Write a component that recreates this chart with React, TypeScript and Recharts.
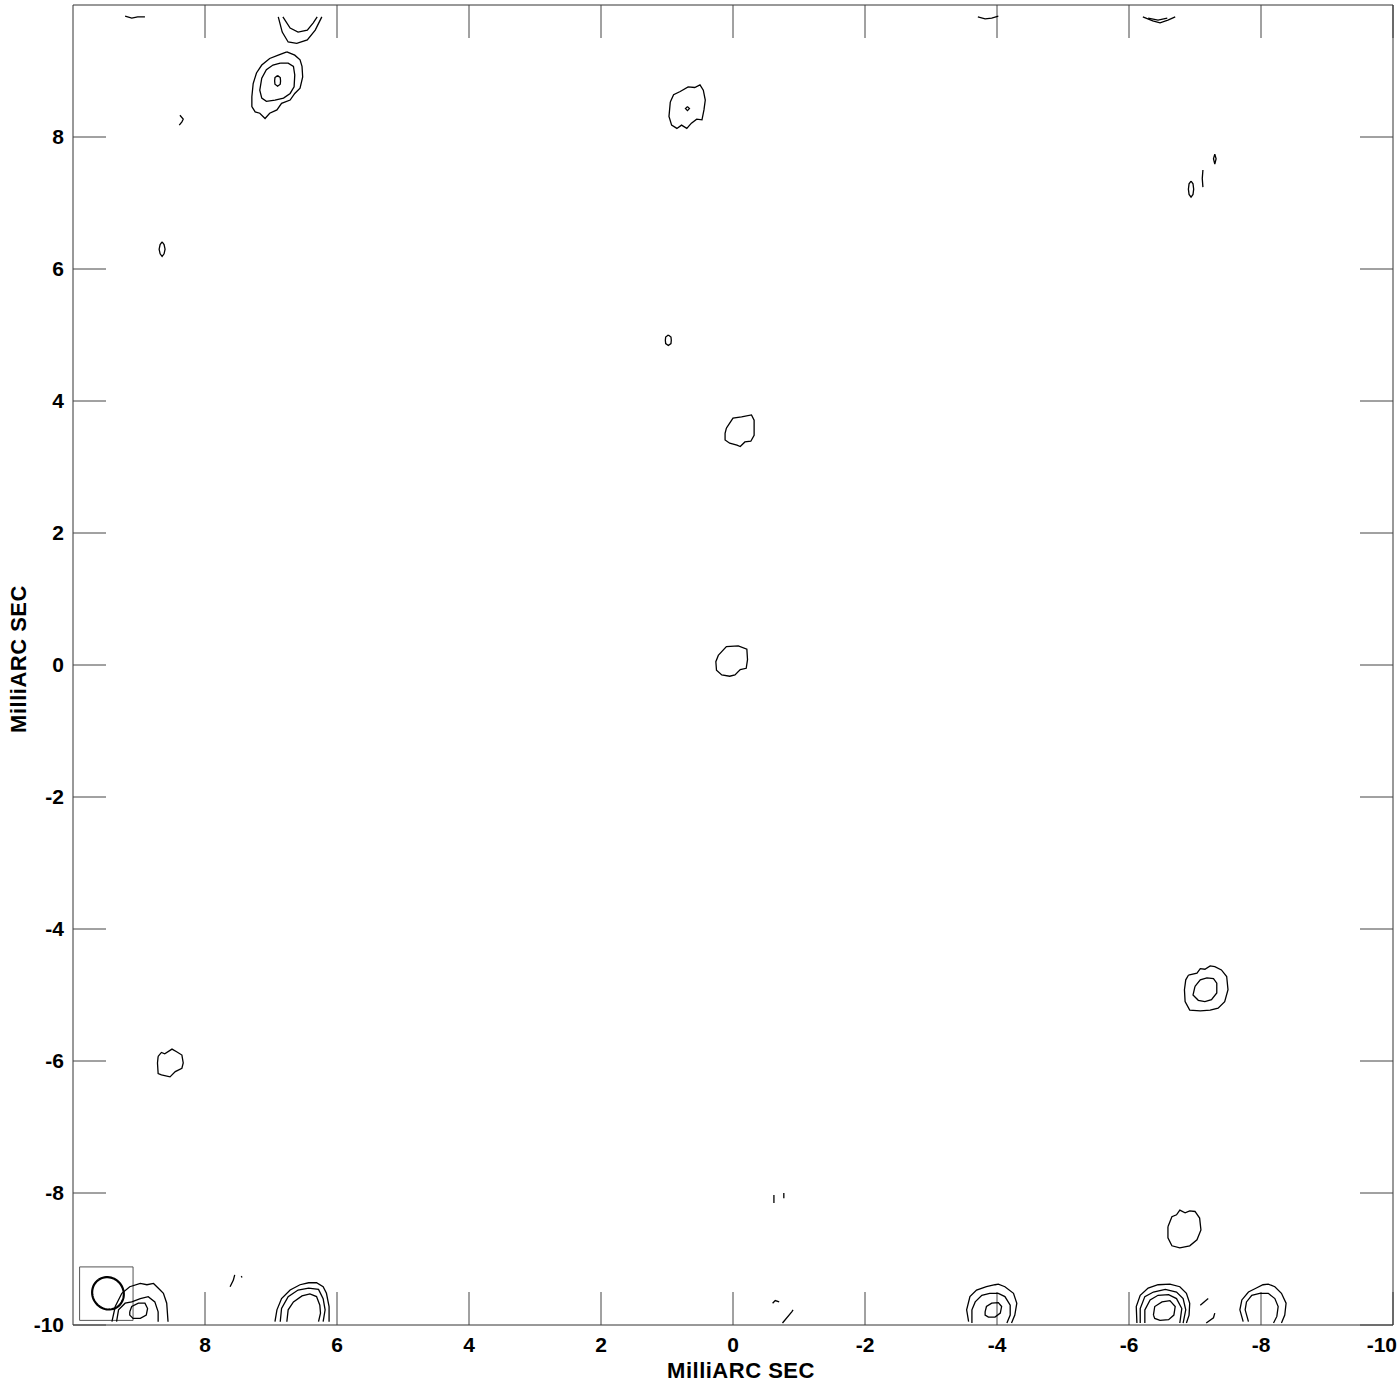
import React from 'react';
import { ScatterChart, Scatter, XAxis, YAxis, ReferenceArea, Label } from 'recharts';

type P = [number, number];

// ---------- axes ----------
const xTicks = [8, 6, 4, 2, 0, -2, -4, -6, -8, -10];
const yTicks = [8, 6, 4, 2, 0, -2, -4, -6, -8, -10];
const xDomain: P = [-10, 10];
const yDomain: P = [-10, 10];
const axisTitle = 'MilliARC SEC';

// ---------- contours (RA offset mas, Dec offset mas) ----------
const topLeftTilde: P[] = [[9.21, 9.83], [9.11, 9.8], [9.02, 9.82], [8.91, 9.82]];
const topUOuter: P[] = [[6.89, 9.82], [6.83, 9.59], [6.74, 9.44], [6.61, 9.42], [6.45, 9.47], [6.33, 9.62], [6.23, 9.82]];
const topUInner: P[] = [[6.82, 9.82], [6.71, 9.65], [6.59, 9.59], [6.45, 9.62], [6.36, 9.73], [6.3, 9.82]];

const nwOuter: P[] = [
  [6.76, 9.29], [6.64, 9.24], [6.56, 9.17], [6.53, 9.07], [6.52, 8.91], [6.56, 8.74], [6.64, 8.66],
  [6.71, 8.56], [6.84, 8.51], [6.91, 8.41], [7.02, 8.36], [7.09, 8.28], [7.17, 8.36], [7.24, 8.38],
  [7.29, 8.46], [7.29, 8.61], [7.27, 8.81], [7.22, 8.97], [7.14, 9.09], [7.02, 9.19], [6.89, 9.24],
];
const nwMiddle: P[] = [
  [6.86, 9.12], [6.74, 9.12], [6.66, 9.07], [6.64, 8.94], [6.65, 8.76], [6.71, 8.66], [6.81, 8.59],
  [6.94, 8.56], [7.07, 8.54], [7.14, 8.59], [7.17, 8.71], [7.14, 8.89], [7.07, 9.02], [6.97, 9.09],
];
const nwInner: P[] = [[6.9, 8.93], [6.86, 8.9], [6.855, 8.85], [6.86, 8.8], [6.9, 8.77], [6.94, 8.8], [6.945, 8.85], [6.94, 8.9]];

const nwHook: P[] = [[8.38, 8.33], [8.33, 8.27], [8.35, 8.23], [8.39, 8.18]];
const nwSpeck: P[] = [[8.65, 6.41], [8.62, 6.37], [8.605, 6.3], [8.62, 6.23], [8.65, 6.19], [8.68, 6.23], [8.695, 6.3], [8.68, 6.37]];

const nOuter: P[] = [
  [0.95, 8.53], [0.9, 8.64], [0.8, 8.69], [0.68, 8.76], [0.58, 8.75], [0.5, 8.79], [0.45, 8.71], [0.42, 8.56],
  [0.44, 8.41], [0.47, 8.26], [0.55, 8.27], [0.63, 8.21], [0.7, 8.13], [0.78, 8.18], [0.85, 8.13], [0.93, 8.18], [0.97, 8.31],
];
const nInner: P[] = [[0.69, 8.46], [0.66, 8.43], [0.69, 8.4], [0.72, 8.43]];
const nSpeck: P[] = [[0.98, 5.0], [1.02, 4.97], [1.025, 4.92], [1.02, 4.87], [0.98, 4.84], [0.94, 4.87], [0.935, 4.92], [0.94, 4.97]];

const jetKnot: P[] = [
  [0.1, 3.59], [0.0, 3.74], [-0.13, 3.76], [-0.28, 3.79], [-0.32, 3.71], [-0.32, 3.48], [-0.27, 3.39],
  [-0.18, 3.38], [-0.11, 3.31], [-0.06, 3.33], [0.05, 3.36], [0.12, 3.41], [0.12, 3.51],
];
const core: P[] = [
  [0.22, 0.15], [0.1, 0.28], [-0.08, 0.29], [-0.21, 0.24], [-0.22, 0.08], [-0.2, -0.05],
  [-0.11, -0.07], [-0.03, -0.15], [0.05, -0.17], [0.17, -0.15], [0.25, -0.08], [0.26, 0.05],
];

const neLensA: P[] = [[-6.21, 9.82], [-6.36, 9.76], [-6.47, 9.73], [-6.59, 9.77], [-6.7, 9.82]];
const neLensB: P[] = [[-6.29, 9.8], [-6.44, 9.77], [-6.58, 9.8]];
const neTilde: P[] = [[-3.71, 9.82], [-3.82, 9.79], [-3.92, 9.8], [-4.02, 9.83]];
const neSpeckA: P[] = [[-7.3, 7.74], [-7.28, 7.67], [-7.3, 7.59], [-7.32, 7.67]];
const neStroke: P[] = [[-7.12, 7.5], [-7.11, 7.37], [-7.12, 7.24]];
const neSpeckB: P[] = [[-6.94, 7.33], [-6.91, 7.29], [-6.9, 7.21], [-6.91, 7.13], [-6.94, 7.09], [-6.97, 7.13], [-6.98, 7.21], [-6.97, 7.29]];

const seOuter: P[] = [
  [-6.9, -4.7], [-7.03, -4.67], [-7.08, -4.6], [-7.15, -4.61], [-7.23, -4.56], [-7.3, -4.57], [-7.4, -4.62],
  [-7.48, -4.72], [-7.5, -4.92], [-7.45, -5.1], [-7.35, -5.2], [-7.23, -5.23], [-7.08, -5.24], [-6.92, -5.23],
  [-6.85, -5.1], [-6.84, -4.92], [-6.86, -4.77],
];
const seInner: P[] = [
  [-7.0, -4.87], [-7.08, -4.77], [-7.18, -4.74], [-7.28, -4.75], [-7.33, -4.82], [-7.33, -4.97],
  [-7.25, -5.07], [-7.15, -5.1], [-7.05, -5.08], [-6.97, -5.0],
];
const seLower: P[] = [
  [-6.59, -8.51], [-6.65, -8.36], [-6.72, -8.33], [-6.77, -8.26], [-6.85, -8.3], [-6.92, -8.27], [-7.0, -8.28],
  [-7.07, -8.38], [-7.09, -8.56], [-7.03, -8.71], [-6.92, -8.8], [-6.77, -8.83], [-6.65, -8.8], [-6.59, -8.68],
];

const swBlob: P[] = [
  [8.71, -5.93], [8.66, -5.87], [8.61, -5.89], [8.5, -5.82], [8.43, -5.86], [8.35, -5.91], [8.33, -6.03],
  [8.35, -6.11], [8.45, -6.16], [8.53, -6.24], [8.66, -6.21], [8.71, -6.19], [8.72, -6.03],
];

const sTickA: P[] = [[-0.62, -8.03], [-0.62, -8.15]];
const sTickB: P[] = [[-0.77, -8.0], [-0.77, -8.08]];
const sHookA: P[] = [[-0.6, -9.67], [-0.64, -9.63], [-0.7, -9.65]];
const sHookB: P[] = [[-0.75, -9.97], [-0.89, -9.8], [-0.91, -9.77]];
const swHook: P[] = [[7.62, -9.42], [7.57, -9.32], [7.55, -9.24]];
const swDot: P[] = [[7.45, -9.26], [7.44, -9.28]];

const edgeA1: P[] = [[9.41, -9.95], [9.36, -9.72], [9.26, -9.52], [9.14, -9.42], [8.98, -9.37], [8.88, -9.39], [8.78, -9.37], [8.71, -9.44], [8.63, -9.52], [8.58, -9.67], [8.56, -9.95]];
const edgeA2: P[] = [[9.34, -9.95], [9.31, -9.77], [9.21, -9.67], [9.11, -9.65], [8.98, -9.6], [8.86, -9.57], [8.76, -9.65], [8.71, -9.8], [8.71, -9.95]];
const edgeA3: P[] = [[9.14, -9.8], [9.11, -9.72], [9.01, -9.67], [8.91, -9.67], [8.87, -9.75], [8.89, -9.85], [8.98, -9.9], [9.09, -9.9], [9.14, -9.85]];

const edgeB1: P[] = [[6.94, -9.95], [6.91, -9.77], [6.84, -9.6], [6.71, -9.47], [6.56, -9.39], [6.43, -9.36], [6.31, -9.36], [6.21, -9.42], [6.16, -9.52], [6.12, -9.72], [6.12, -9.95]];
const edgeB2: P[] = [[6.86, -9.95], [6.84, -9.75], [6.74, -9.57], [6.59, -9.47], [6.43, -9.44], [6.28, -9.46], [6.21, -9.6], [6.18, -9.77], [6.21, -9.95]];
const edgeB3: P[] = [[6.76, -9.95], [6.74, -9.77], [6.66, -9.65], [6.53, -9.56], [6.41, -9.53], [6.31, -9.57], [6.26, -9.7], [6.25, -9.82], [6.28, -9.95]];

const edgeC1: P[] = [[-3.57, -9.95], [-3.54, -9.77], [-3.59, -9.57], [-3.69, -9.47], [-3.84, -9.42], [-3.97, -9.39], [-4.02, -9.38], [-4.12, -9.42], [-4.25, -9.52], [-4.3, -9.67], [-4.27, -9.85], [-4.22, -9.97]];
const edgeC2: P[] = [[-3.62, -9.97], [-3.62, -9.77], [-3.67, -9.65], [-3.77, -9.55], [-3.89, -9.52], [-4.02, -9.52], [-4.12, -9.57], [-4.2, -9.7], [-4.2, -9.85], [-4.15, -9.97]];
const edgeC3: P[] = [[-3.82, -9.8], [-3.84, -9.72], [-3.92, -9.67], [-4.02, -9.66], [-4.07, -9.72], [-4.05, -9.82], [-3.97, -9.88], [-3.87, -9.88], [-3.82, -9.85]];

const edgeD1: P[] = [[-6.12, -9.97], [-6.11, -9.72], [-6.17, -9.55], [-6.29, -9.44], [-6.44, -9.39], [-6.62, -9.38], [-6.77, -9.42], [-6.87, -9.52], [-6.92, -9.67], [-6.91, -9.85], [-6.87, -9.97]];
const edgeD2: P[] = [[-6.17, -9.97], [-6.17, -9.75], [-6.24, -9.57], [-6.37, -9.5], [-6.55, -9.46], [-6.72, -9.5], [-6.82, -9.6], [-6.86, -9.77], [-6.82, -9.97]];
const edgeD3: P[] = [[-6.24, -9.97], [-6.24, -9.77], [-6.32, -9.62], [-6.44, -9.55], [-6.6, -9.54], [-6.72, -9.6], [-6.8, -9.75], [-6.77, -9.97]];
const edgeD4: P[] = [[-6.37, -9.85], [-6.39, -9.72], [-6.5, -9.65], [-6.62, -9.63], [-6.7, -9.72], [-6.68, -9.85], [-6.6, -9.92], [-6.47, -9.93], [-6.39, -9.9]];
const edgeDSlashA: P[] = [[-7.08, -9.7], [-7.2, -9.6]];
const edgeDSlashB: P[] = [[-7.17, -9.97], [-7.28, -9.89], [-7.3, -9.82]];

const edgeE1: P[] = [[-7.73, -9.95], [-7.68, -9.77], [-7.71, -9.62], [-7.81, -9.5], [-7.93, -9.44], [-8.03, -9.39], [-8.11, -9.38], [-8.21, -9.42], [-8.31, -9.52], [-8.38, -9.67], [-8.36, -9.85], [-8.31, -9.97]];
const edgeE2: P[] = [[-7.81, -9.95], [-7.76, -9.77], [-7.78, -9.65], [-7.86, -9.55], [-7.98, -9.52], [-8.11, -9.52], [-8.21, -9.6], [-8.26, -9.72], [-8.24, -9.87], [-8.19, -9.97]];

// ---------- restoring beam ----------
const beamCenter: P = [9.47, -9.52];
const beamMajor = 0.5; // mas (FWHM)
const beamMinor = 0.47; // mas
const beamPA = 35; // deg
const beamBoxX: P = [9.9, 9.09];
const beamBoxY: P = [-9.93, -9.12];

type C = { id: string; pts: P[]; closed: boolean };
const contours: C[] = [
  { id: 'topLeftTilde', pts: topLeftTilde, closed: false },
  { id: 'topUOuter', pts: topUOuter, closed: false },
  { id: 'topUInner', pts: topUInner, closed: false },
  { id: 'nwOuter', pts: nwOuter, closed: true },
  { id: 'nwMiddle', pts: nwMiddle, closed: true },
  { id: 'nwInner', pts: nwInner, closed: true },
  { id: 'nwHook', pts: nwHook, closed: false },
  { id: 'nwSpeck', pts: nwSpeck, closed: true },
  { id: 'nOuter', pts: nOuter, closed: true },
  { id: 'nInner', pts: nInner, closed: true },
  { id: 'nSpeck', pts: nSpeck, closed: true },
  { id: 'jetKnot', pts: jetKnot, closed: true },
  { id: 'core', pts: core, closed: true },
  { id: 'neLensA', pts: neLensA, closed: false },
  { id: 'neLensB', pts: neLensB, closed: false },
  { id: 'neTilde', pts: neTilde, closed: false },
  { id: 'neSpeckA', pts: neSpeckA, closed: true },
  { id: 'neStroke', pts: neStroke, closed: false },
  { id: 'neSpeckB', pts: neSpeckB, closed: true },
  { id: 'seOuter', pts: seOuter, closed: true },
  { id: 'seInner', pts: seInner, closed: true },
  { id: 'seLower', pts: seLower, closed: true },
  { id: 'swBlob', pts: swBlob, closed: true },
  { id: 'sTickA', pts: sTickA, closed: false },
  { id: 'sTickB', pts: sTickB, closed: false },
  { id: 'sHookA', pts: sHookA, closed: false },
  { id: 'sHookB', pts: sHookB, closed: false },
  { id: 'swHook', pts: swHook, closed: false },
  { id: 'swDot', pts: swDot, closed: false },
  { id: 'edgeA1', pts: edgeA1, closed: false },
  { id: 'edgeA2', pts: edgeA2, closed: false },
  { id: 'edgeA3', pts: edgeA3, closed: true },
  { id: 'edgeB1', pts: edgeB1, closed: false },
  { id: 'edgeB2', pts: edgeB2, closed: false },
  { id: 'edgeB3', pts: edgeB3, closed: false },
  { id: 'edgeC1', pts: edgeC1, closed: false },
  { id: 'edgeC2', pts: edgeC2, closed: false },
  { id: 'edgeC3', pts: edgeC3, closed: true },
  { id: 'edgeD1', pts: edgeD1, closed: false },
  { id: 'edgeD2', pts: edgeD2, closed: false },
  { id: 'edgeD3', pts: edgeD3, closed: false },
  { id: 'edgeD4', pts: edgeD4, closed: true },
  { id: 'edgeDSlashA', pts: edgeDSlashA, closed: false },
  { id: 'edgeDSlashB', pts: edgeDSlashB, closed: false },
  { id: 'edgeE1', pts: edgeE1, closed: false },
  { id: 'edgeE2', pts: edgeE2, closed: false },
];

const toRows = (pts: P[], closed: boolean) => {
  const rows = pts.map(([x, y]) => ({ x, y }));
  if (closed && pts.length) rows.push({ x: pts[0][0], y: pts[0][1] });
  return rows;
};

// beam outline built from its parameters
const beamRows = (() => {
  const a = beamMajor / 2;
  const b = beamMinor / 2;
  const pa = (beamPA * Math.PI) / 180;
  const rows: { x: number; y: number }[] = [];
  for (let k = 0; k <= 60; k++) {
    const t = (2 * Math.PI * k) / 60;
    const u = a * Math.cos(t);
    const v = b * Math.sin(t);
    rows.push({
      x: beamCenter[0] + u * Math.sin(pa) + v * Math.cos(pa),
      y: beamCenter[1] + u * Math.cos(pa) - v * Math.sin(pa),
    });
  }
  return rows;
})();

const FONT = '"Liberation Sans", Arial, Helvetica, sans-serif';
const NoShape = () => <g />;
const NoTick = () => <g />;

const XTick = (props: any) => {
  const { x, y, payload } = props;
  const last = payload.value === -10;
  return (
    <text x={last ? x + 4 : x} y={y} dy="0.71em" textAnchor={last ? 'end' : 'middle'} fontFamily={FONT} fontWeight="bold" fontSize={21} fill="#000">
      {payload.value}
    </text>
  );
};

const YTick = (props: any) => {
  const { x, y, payload } = props;
  return (
    <text x={x} y={y} dy="0.355em" textAnchor="end" fontFamily={FONT} fontWeight="bold" fontSize={21} fill="#000">
      {payload.value}
    </text>
  );
};

const renderXTitle = (props: any) => {
  const vb = props.viewBox || { x: 73, y: 1325, width: 1320, height: 1 };
  return (
    <text x={vb.x + vb.width / 2 + 8} y={vb.y + 53} textAnchor="middle" fontFamily={FONT} fontWeight="bold" fontSize={22} letterSpacing={0.5} fill="#000">
      {axisTitle}
    </text>
  );
};

const renderYTitle = (props: any) => {
  const vb = props.viewBox || { x: 72, y: 5, width: 1, height: 1320 };
  const cx = vb.x + vb.width - 55;
  const cy = vb.y + vb.height / 2 - 6;
  return (
    <text x={cx} y={cy} transform={`rotate(-90, ${cx}, ${cy})`} textAnchor="middle" dominantBaseline="central" fontFamily={FONT} fontWeight="bold" fontSize={22} letterSpacing={0.5} fill="#000">
      {axisTitle}
    </text>
  );
};

const AXIS = '#333';
const TICK = '#444';

export default function App() {
  return (
    <div style={{ position: 'absolute', left: 0, top: 0, width: 1400, height: 1382, background: '#fff' }}>
      <ScatterChart width={1400} height={1382} margin={{ top: 4, right: 6, bottom: 56, left: 72 }}>
        <XAxis
          xAxisId="b"
          type="number"
          dataKey="x"
          orientation="bottom"
          domain={xDomain}
          reversed
          allowDataOverflow
          ticks={xTicks}
          height={1}
          tickSize={-33}
          tickMargin={45}
          tick={<XTick />}
          stroke={AXIS}
          tickLine={{ stroke: TICK }}
          interval={0}
        >
          <Label content={renderXTitle} />
        </XAxis>
        <XAxis
          xAxisId="t"
          type="number"
          dataKey="x"
          orientation="top"
          domain={xDomain}
          reversed
          allowDataOverflow
          ticks={xTicks}
          height={1}
          tickSize={-33}
          tick={<NoTick />}
          stroke={AXIS}
          tickLine={{ stroke: TICK }}
          interval={0}
        />
        <YAxis
          yAxisId="l"
          type="number"
          dataKey="y"
          orientation="left"
          domain={yDomain}
          allowDataOverflow
          ticks={yTicks}
          width={1}
          tickSize={-33}
          tickMargin={42}
          tick={<YTick />}
          stroke={AXIS}
          tickLine={{ stroke: TICK }}
          interval={0}
        >
          <Label content={renderYTitle} />
        </YAxis>
        <YAxis
          yAxisId="r"
          type="number"
          dataKey="y"
          orientation="right"
          domain={yDomain}
          allowDataOverflow
          ticks={yTicks}
          width={1}
          tickSize={-33}
          tick={<NoTick />}
          stroke={AXIS}
          tickLine={{ stroke: TICK }}
          interval={0}
        />
        <ReferenceArea
          xAxisId="b"
          yAxisId="l"
          x1={beamBoxX[0]}
          x2={beamBoxX[1]}
          y1={beamBoxY[0]}
          y2={beamBoxY[1]}
          fill="none"
          fillOpacity={0}
          stroke="#555"
          strokeWidth={1}
          ifOverflow="visible"
        />
        {contours.map((c) => (
          <Scatter
            key={c.id}
            name={c.id}
            xAxisId="b"
            yAxisId="l"
            data={toRows(c.pts, c.closed)}
            line={{ stroke: '#000', strokeWidth: 1.3, fill: 'none' }}
            lineType="joint"
            shape={<NoShape />}
            isAnimationActive={false}
          />
        ))}
        <Scatter
          name="beam"
          xAxisId="b"
          yAxisId="l"
          data={beamRows}
          line={{ stroke: '#000', strokeWidth: 2.2, fill: 'none' }}
          lineType="joint"
          shape={<NoShape />}
          isAnimationActive={false}
        />
      </ScatterChart>
    </div>
  );
}
